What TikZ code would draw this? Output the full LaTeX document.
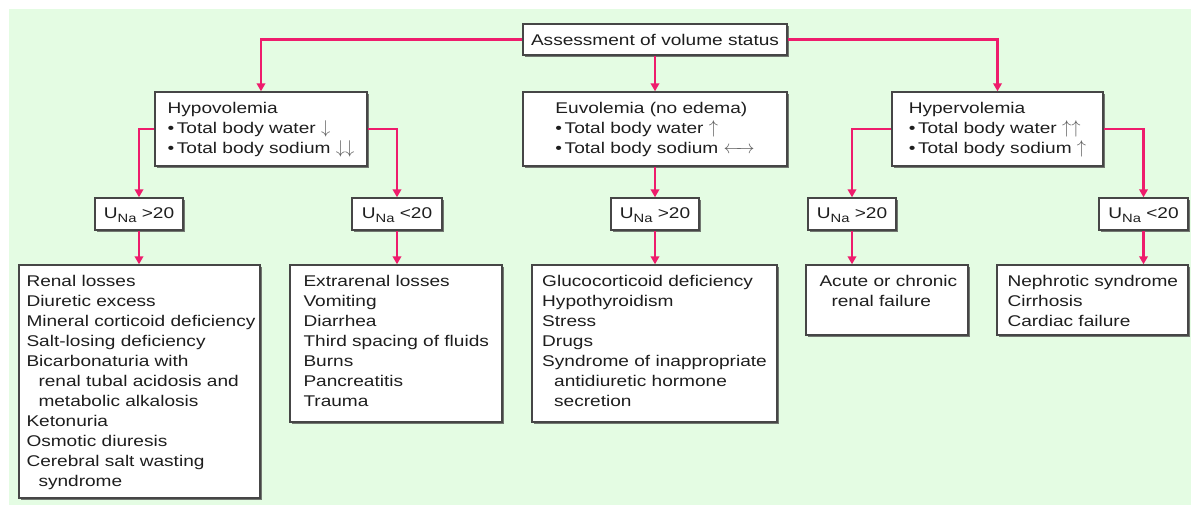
\RequirePackage{fix-cm}
\documentclass[tikz,border=0pt]{standalone}
\usepackage{fontspec}
\setmainfont[FakeStretch=1.23]{Liberation Sans}
\usetikzlibrary{shadows,arrows.meta}
\definecolor{bgcol}{RGB}{228,252,227}
\definecolor{lnk}{RGB}{238,28,108}
\definecolor{bord}{RGB}{70,70,70}
\definecolor{txtc}{RGB}{30,30,30}
\definecolor{arrg}{RGB}{95,95,95}
\newcommand{\arrsz}{\fontsize{18.5}{18.5}\selectfont}
\newcommand{\myup}{{\color{arrg}\arrsz$\uparrow$}}
\newcommand{\mydn}{{\color{arrg}\arrsz$\downarrow$}}
\newcommand{\mylr}{{\color{arrg}\arrsz$\leftarrow\!\!\rightarrow$}}
\newcommand{\una}{U\raisebox{-4pt}{\fontsize{12}{12}\selectfont Na}}
\tikzset{
  box/.style={draw=bord, line width=1.4pt, fill=white, inner sep=0pt,
    drop shadow={shadow xshift=2.4pt, shadow yshift=-2.4pt, opacity=0.75, fill=black!70}},
  txtn/.style={inner sep=0pt, align=left, font=\fontsize{15.5}{20}\selectfont, text=txtc},
  conn/.style={draw=lnk, line width=2.4pt, -{Triangle[length=8pt,width=8.5pt]}},
}
\begin{document}
\begin{tikzpicture}[x=1pt,y=-1pt]
\useasboundingbox (0,0) rectangle (1191,507);
\fill[white] (0,0) rectangle (1191,507);
\fill[bgcol] (9,9) rectangle (1191,505);
% boxes
\node[box, minimum width=264, minimum height=31] (top) at (655,39.5) {};
\node[box, minimum width=212, minimum height=74] (hypo) at (261,129) {};
\node[box, minimum width=264, minimum height=74] (eu) at (655,129) {};
\node[box, minimum width=211, minimum height=74] (hyper) at (997.5,129) {};
\node[box, minimum width=88, minimum height=32] (u1) at (139,214) {};
\node[box, minimum width=90, minimum height=32] (u2) at (397,214) {};
\node[box, minimum width=88, minimum height=32] (u3) at (655,214) {};
\node[box, minimum width=88, minimum height=32] (u4) at (852,214) {};
\node[box, minimum width=89, minimum height=32] (u5) at (1143.5,214) {};
\node[box, minimum width=241, minimum height=233] (b1) at (139.5,381.5) {};
\node[box, minimum width=212, minimum height=157] (b2) at (396,343.5) {};
\node[box, minimum width=245, minimum height=157] (b3) at (654.5,343.5) {};
\node[box, minimum width=162, minimum height=70] (b4) at (887,300) {};
\node[box, minimum width=191, minimum height=70] (b5) at (1092.5,300) {};
% texts
\node[txtn, anchor=base, yshift=-6pt] (ttop) at (top.center) {Assessment of volume status};
\node[txtn, anchor=base, yshift=-24pt] (thypo) at (hypo.center) {Hypovolemia\\•\,Total body water \mydn\\•\,Total body sodium \mydn\mydn};
\node[txtn, anchor=base, yshift=-24pt] (teu) at (eu.center) {Euvolemia (no edema)\\•\,Total body water \myup\\•\,Total body sodium \mylr};
\node[txtn, anchor=base, yshift=-24pt] (thyper) at (hyper.center) {Hypervolemia\\•\,Total body water \myup\myup\\•\,Total body sodium \myup};
\node[txtn, anchor=base, yshift=-4.5pt] (tu1) at (u1.center) {\una{} >20};
\node[txtn, anchor=base, yshift=-4.5pt] (tu2) at (u2.center) {\una{} <20};
\node[txtn, anchor=base, yshift=-4.5pt] (tu3) at (u3.center) {\una{} >20};
\node[txtn, anchor=base, yshift=-4.5pt] (tu4) at (u4.center) {\una{} >20};
\node[txtn, anchor=base, yshift=-4.5pt] (tu5) at (u5.center) {\una{} <20};
\node[txtn, anchor=north west, xshift=8pt, yshift=-10.7pt] (tb1) at (b1.north west)
  {Renal losses\\Diuretic excess\\Mineral corticoid deficiency\\Salt-losing deficiency\\Bicarbonaturia with\\
   \hspace*{12pt}renal tubal acidosis and\\\hspace*{12pt}metabolic alkalosis\\Ketonuria\\Osmotic diuresis\\
   Cerebral salt wasting\\\hspace*{12pt}syndrome};
\node[txtn, anchor=north west, xshift=14pt, yshift=-10.7pt] (tb2) at (b2.north west)
  {Extrarenal losses\\Vomiting\\Diarrhea\\Third spacing of fluids\\Burns\\Pancreatitis\\Trauma};
\node[txtn, anchor=north west, xshift=10.7pt, yshift=-10.7pt] (tb3) at (b3.north west)
  {Glucocorticoid deficiency\\Hypothyroidism\\Stress\\Drugs\\Syndrome of inappropriate\\
   \hspace*{12pt}antidiuretic hormone\\\hspace*{12pt}secretion};
\node[txtn, anchor=north west, xshift=14pt, yshift=-10.7pt] (tb4) at (b4.north west)
  {Acute or chronic\\\hspace*{12pt}renal failure};
\node[txtn, anchor=north west, xshift=11pt, yshift=-10.7pt] (tb5) at (b5.north west)
  {Nephrotic syndrome\\Cirrhosis\\Cardiac failure};
% connectors
\draw[conn] (top.west) -| (hypo.north);
\draw[conn] (top.east) -| (hyper.north);
\draw[conn] (top.south) -- (eu.north);
\draw[conn] (hypo.west) -| (u1.north);
\draw[conn] (hypo.east) -| (u2.north);
\draw[conn] (eu.south) -- (u3.north);
\draw[conn] (hyper.west) -| (u4.north);
\draw[conn] (hyper.east) -| (u5.north);
\draw[conn] (u1.south) -- (u1.south |- b1.north);
\draw[conn] (u2.south) -- (u2.south |- b2.north);
\draw[conn] (u3.south) -- (u3.south |- b3.north);
\draw[conn] (u4.south) -- (u4.south |- b4.north);
\draw[conn] (u5.south) -- (u5.south |- b5.north);
\end{tikzpicture}
\end{document}
